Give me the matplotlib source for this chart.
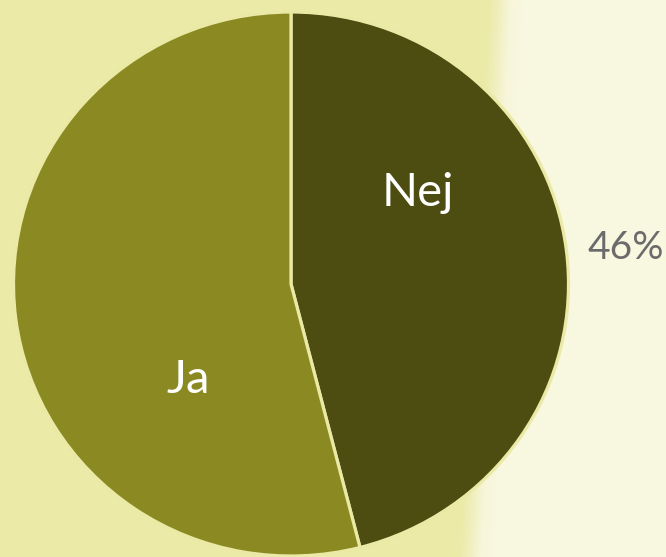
import numpy as np
import matplotlib.pyplot as plt
from matplotlib.colors import LinearSegmentedColormap

labels = ['Nej', 'Ja']
values = [46, 54]
colors = ['#4d4c11', '#8b8a22']
pct_text = '46%'

fig = plt.figure(figsize=(6.66, 5.57), dpi=100)

# background: yellow on the left fading to pale cream on the right
bg = fig.add_axes([0, 0, 1, 1])
bg_cmap = LinearSegmentedColormap.from_list('bg', ['#ebeaa6', '#f0efbe', '#f7f6da', '#f8f7e0'])
xx, yy = np.meshgrid(np.arange(666), np.arange(557))
edge = 505 - 30 * yy / 557
grad = np.clip((xx - edge) / 35 + 0.5, 0, 1)
bg.imshow(grad, cmap=bg_cmap, aspect='auto', extent=[0, 1, 0, 1], vmin=0, vmax=1)
bg.axis('off')

ax = fig.add_axes([13.5 / 666, 1 / 557, 555 / 666, 544 / 557])
ax.pie(values, colors=colors, startangle=90, counterclock=False,
       wedgeprops=dict(edgecolor='#eae9a6', linewidth=2.3))
ax.set_aspect('auto')
ax.set_xlim(-1, 1)
ax.set_ylim(-1, 1)
ax.axis('off')

font = 'Lato'
ax.text(0.457, 0.335, labels[0], color='white', fontsize=34, family=font,
        ha='center', va='center')
ax.text(-0.371, -0.353, labels[1], color='white', fontsize=34, family=font,
        ha='center', va='center')
ax.text(1.207, 0.132, pct_text, color='#6b6b6b', fontsize=28, family=font,
        ha='center', va='center')

fig.savefig('out.png', dpi=100)
